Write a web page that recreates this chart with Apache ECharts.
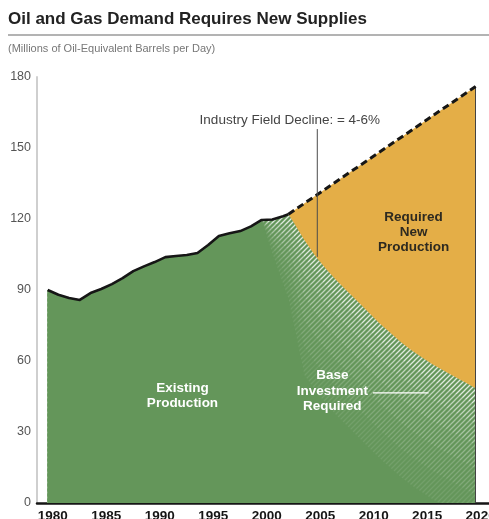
<!DOCTYPE html>
<html>
<head>
<meta charset="utf-8">
<script src="https://cdn.jsdelivr.net/npm/echarts@6/dist/echarts.min.js"></script>
<style>
  html, body { margin: 0; padding: 0; background: #ffffff; }
  #chart { width: 489px; height: 519px; }
</style>
</head>
<body>
<div id="chart"></div>
<script>
// Historical oil & gas demand (million boe/d)
const histYears  = [1980, 1981, 1982, 1983, 1984, 1985, 1986, 1987, 1988, 1989, 1990, 1991,
                    1992, 1993, 1994, 1995, 1996, 1997, 1998, 1999, 2000, 2001, 2002, 2002.5];
const histValues = [90, 88, 86.6, 85.8, 88.7, 90.4, 92.5, 95, 98, 100, 101.8, 103.9,
                    104.4, 104.8, 105.6, 109, 112.8, 114, 114.9, 116.9, 119.6, 119.8, 121.2, 122];

// Output of existing fields with no new investment
const declineYears  = [2002.5, 2003, 2004, 2005, 2006, 2007, 2008, 2009, 2010, 2011,
                       2012, 2013, 2014, 2015, 2016, 2017, 2018, 2019, 2020];
const declineValues = [122, 118.5, 111, 104.5, 99, 94, 89.5, 85, 80.5, 76,
                       72, 68, 64.5, 61.5, 58.5, 56, 53.5, 51, 48.5];

// Projected demand
const demandYears  = [2002.5, 2020];
const demandValues = [122, 176];

const xTickYears = [1980, 1985, 1990, 1995, 2000, 2005, 2010, 2015, 2020];

const GREEN  = '#64965a';
const ORANGE = '#e4ae47';
const FONT   = '"Liberation Sans", Arial, Helvetica, sans-serif';

const pairs = (xs, ys) => xs.map((x, i) => [x, ys[i]]);

// Upper edge of the existing-production area: history, then decline
const topCurve = pairs(histYears, histValues).concat(pairs(declineYears.slice(1), declineValues.slice(1)));

// Green fill with white diagonal hatching of a given strength
function hatchPattern(alpha) {
  const s = 5;
  const c = document.createElement('canvas');
  c.width = s; c.height = s;
  const g = c.getContext('2d');
  g.fillStyle = GREEN;
  g.fillRect(0, 0, s, s);
  g.strokeStyle = 'rgba(255,255,255,' + alpha + ')';
  g.lineWidth = 1.3;
  g.beginPath();
  g.moveTo(-1, s + 1); g.lineTo(s + 1, -1);
  g.moveTo(-1, 1); g.lineTo(1, -1);
  g.moveTo(s - 1, s + 1); g.lineTo(s + 1, s - 1);
  g.stroke();
  return { image: c, repeat: 'repeat' };
}

// Hatched band fades in below the decline curve, starting around 2000
function bandFade(x) {
  return Math.max(0, Math.min(1, (x - 2000) / 4));
}
function layer(depth, alpha) {
  return {
    type: 'line',
    data: topCurve.map(p => [p[0], p[1] - depth * bandFade(p[0])]),
    symbol: 'none',
    silent: true,
    lineStyle: { width: 0 },
    areaStyle: { color: alpha === null ? GREEN : hatchPattern(alpha), opacity: 1 },
    z: 3
  };
}

const chart = echarts.init(document.getElementById('chart'), null, { renderer: 'canvas' });

const option = {
  animation: false,
  backgroundColor: '#ffffff',
  grid: { left: 37, right: 0, top: 77, bottom: 16, containLabel: false, outerBoundsMode: 'none' },
  xAxis: {
    type: 'value',
    min: 1979,
    max: 2021.25,
    axisLine: { show: true, onZero: false, lineStyle: { color: '#151515', width: 2.5 } },
    axisTick: { show: false },
    splitLine: { show: false },
    axisLabel: {
      customValues: xTickYears,
      formatter: v => String(v),
      fontFamily: FONT,
      fontWeight: 'bold',
      fontSize: 13.5,
      color: '#151515',
      margin: 6,
      padding: [0, 0, 0, 10]
    }
  },
  yAxis: {
    type: 'value',
    min: 0,
    max: 180,
    interval: 30,
    axisLine: { show: true, lineStyle: { color: '#cfcfcf', width: 2 } },
    axisTick: { show: false },
    splitLine: { show: false },
    axisLabel: { fontFamily: FONT, fontSize: 12.5, color: '#555555', margin: 6 }
  },
  series: [
    // Required new production (gap between demand and declining base)
    {
      type: 'line',
      data: pairs(demandYears, demandValues),
      symbol: 'none',
      silent: true,
      lineStyle: { width: 0 },
      areaStyle: { color: ORANGE, opacity: 1 },
      z: 2
    },
    layer(0, 0.8),
    layer(7, 0.6),
    layer(15, 0.44),
    layer(24, 0.3),
    layer(34, 0.19),
    layer(45, 0.1),
    layer(57, null),
    // Historical demand line
    {
      type: 'line',
      data: pairs(histYears, histValues),
      symbol: 'none',
      silent: true,
      lineStyle: { color: '#161616', width: 2.6, join: 'round' },
      z: 6
    },
    // Projected demand line
    {
      type: 'line',
      data: pairs(demandYears, demandValues),
      symbol: 'none',
      silent: true,
      lineStyle: { color: '#161616', width: 3, type: [7, 4] },
      markLine: {
        silent: true,
        symbol: 'none',
        label: { show: false },
        lineStyle: { color: '#444444', width: 1, type: 'solid' },
        data: [[{ coord: [2020, 0] }, { coord: [2020, 176] }]]
      },
      z: 6
    }
  ]
};

chart.setOption(option);

const P = (x, y) => chart.convertToPixel({ gridIndex: 0 }, [x, y]);

const fieldLineTop = P(2005.2, 158);
const fieldLineBot = P(2005.2, 104);
const industryPos  = P(1994.2, 161.8);
const reqPos       = P(2014.2, 114.3);
const basePos      = P(2006.6, 47.3);
const baseLineA    = P(2010.4, 46.5);
const baseLineB    = P(2015.6, 46.5);
const existPos     = P(1992.6, 45.4);

chart.setOption({
  graphic: [
    {
      type: 'text', left: 8, top: 11,
      style: { text: 'Oil and Gas Demand Requires New Supplies', font: 'bold 17px ' + FONT, fill: '#222222' }
    },
    {
      type: 'line',
      shape: { x1: 8, y1: 35, x2: 489, y2: 35 },
      style: { stroke: '#9a9a9a', lineWidth: 1.5 }
    },
    {
      type: 'text', left: 8, top: 43,
      style: { text: '(Millions of Oil-Equivalent Barrels per Day)', font: '11px ' + FONT, fill: '#777777' }
    },
    {
      type: 'line', z: 10,
      shape: { x1: fieldLineTop[0], y1: fieldLineTop[1], x2: fieldLineBot[0], y2: fieldLineBot[1] },
      style: { stroke: '#4a4a4a', lineWidth: 1 }
    },
    {
      type: 'text', z: 10, x: industryPos[0], y: industryPos[1],
      style: { text: 'Industry Field Decline: = 4-6%', font: '13.5px ' + FONT, fill: '#444444',
               align: 'left', verticalAlign: 'middle' }
    },
    {
      type: 'text', z: 10, x: reqPos[0], y: reqPos[1],
      style: { text: 'Required\nNew\nProduction', font: 'bold 13.5px ' + FONT, fill: '#2e2a20',
               align: 'center', verticalAlign: 'middle', lineHeight: 15 }
    },
    {
      type: 'text', z: 10, x: basePos[0], y: basePos[1],
      style: { text: 'Base\nInvestment\nRequired', font: 'bold 13.5px ' + FONT, fill: '#ffffff',
               align: 'center', verticalAlign: 'middle', lineHeight: 15.5 }
    },
    {
      type: 'line', z: 10,
      shape: { x1: baseLineA[0], y1: baseLineA[1], x2: baseLineB[0], y2: baseLineB[1] },
      style: { stroke: '#ffffff', lineWidth: 1.2 }
    },
    {
      type: 'text', z: 10, x: existPos[0], y: existPos[1],
      style: { text: 'Existing\nProduction', font: 'bold 13.5px ' + FONT, fill: '#ffffff',
               align: 'center', verticalAlign: 'middle', lineHeight: 15 }
    }
  ]
});
</script>
</body>
</html>
